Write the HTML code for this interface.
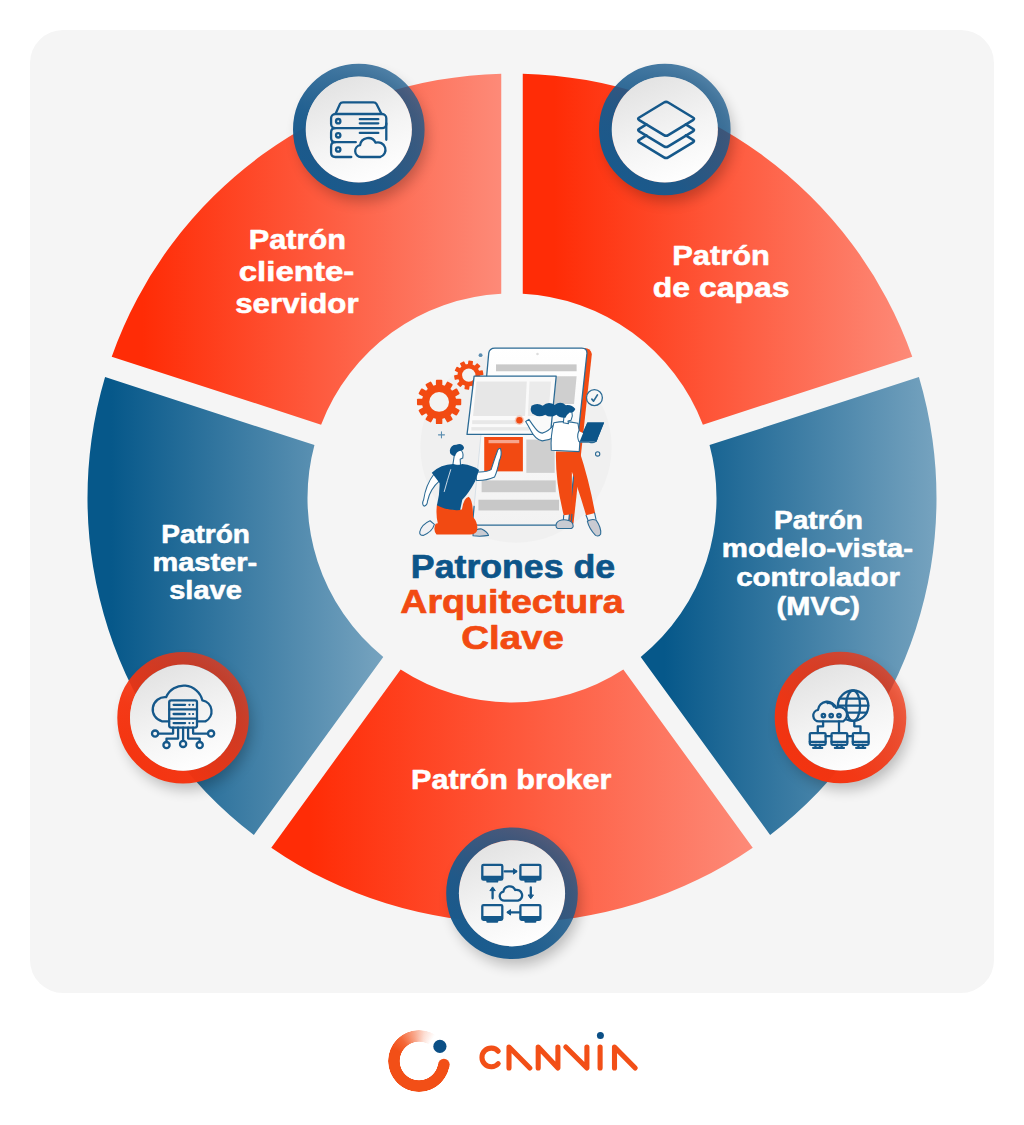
<!DOCTYPE html>
<html lang="es">
<head>
<meta charset="utf-8">
<title>Patrones de Arquitectura Clave</title>
<style>
  html, body { margin: 0; padding: 0; background: #ffffff; }
  body { width: 1024px; height: 1125px; overflow: hidden; position: relative;
         font-family: "Liberation Sans", sans-serif; }
  svg { position: absolute; left: 0; top: 0; display: block; }
  text { font-family: "Liberation Sans", sans-serif; font-weight: bold; }
  .lbl { fill: #ffffff; stroke: #ffffff; stroke-width: 0.55px; stroke-linejoin: round; }
  .logo-ring { position: absolute; left: 388px; top: 1029.5px; width: 62px; height: 62px; border-radius: 50%;
     background: conic-gradient(from 100deg, #f24f17 0deg, #f24f17 195deg, rgba(242,79,23,0.85) 222deg, rgba(242,79,23,0.5) 250deg, rgba(242,79,23,0.18) 272deg, rgba(242,79,23,0) 292deg, rgba(242,79,23,0) 360deg);
     -webkit-mask: radial-gradient(circle closest-side, transparent 0, transparent 19px, #000 19.6px, #000 30.6px, transparent 31.2px);
             mask: radial-gradient(circle closest-side, transparent 0, transparent 19px, #000 19.6px, #000 30.6px, transparent 31.2px);
  }
</style>
</head>
<body>
<svg width="1024" height="1125" viewBox="0 0 1024 1125">
  <defs>
    <linearGradient id="gA" gradientUnits="userSpaceOnUse" x1="522.75" y1="0" x2="912.3" y2="0"><stop offset="0" stop-color="#ff2c06"/><stop offset="0.08" stop-color="#ff2c06"/><stop offset="1" stop-color="#fd8a78"/></linearGradient>
    <linearGradient id="gB" gradientUnits="userSpaceOnUse" x1="640.7" y1="0" x2="936.5" y2="0"><stop offset="0" stop-color="#06588a"/><stop offset="0.08" stop-color="#06588a"/><stop offset="1" stop-color="#76a3bf"/></linearGradient>
    <linearGradient id="gC" gradientUnits="userSpaceOnUse" x1="271.3" y1="0" x2="752.7" y2="0"><stop offset="0" stop-color="#ff2c06"/><stop offset="0.08" stop-color="#ff2c06"/><stop offset="1" stop-color="#fd8a78"/></linearGradient>
    <linearGradient id="gD" gradientUnits="userSpaceOnUse" x1="87.5" y1="0" x2="383.3" y2="0"><stop offset="0" stop-color="#06588a"/><stop offset="0.08" stop-color="#06588a"/><stop offset="1" stop-color="#76a3bf"/></linearGradient>
    <linearGradient id="gE" gradientUnits="userSpaceOnUse" x1="111.7" y1="0" x2="501.25" y2="0"><stop offset="0" stop-color="#ff2c06"/><stop offset="0.08" stop-color="#ff2c06"/><stop offset="1" stop-color="#fd8a78"/></linearGradient>
    <linearGradient id="ringBlue" x1="0.05" y1="0.95" x2="0.95" y2="0.05"><stop offset="0" stop-color="#185a8d" stop-opacity="1"/><stop offset="0.3" stop-color="#185a8d" stop-opacity="0.96"/><stop offset="0.55" stop-color="#185a8d" stop-opacity="0.86"/><stop offset="1" stop-color="#185a8d" stop-opacity="0.72"/></linearGradient>
    <linearGradient id="ringRed" x1="0.05" y1="0.95" x2="0.95" y2="0.05"><stop offset="0" stop-color="#f5330f" stop-opacity="1"/><stop offset="0.3" stop-color="#f5330f" stop-opacity="0.96"/><stop offset="0.55" stop-color="#f5330f" stop-opacity="0.86"/><stop offset="1" stop-color="#f5330f" stop-opacity="0.70"/></linearGradient>
    <linearGradient id="disc" x1="0.3" y1="0" x2="0.7" y2="1"><stop offset="0" stop-color="#e2e2e2"/><stop offset="0.55" stop-color="#f4f4f4"/><stop offset="1" stop-color="#ffffff"/></linearGradient>
    <linearGradient id="tabfill" x1="0" y1="0" x2="0" y2="1"><stop offset="0" stop-color="#ffffff"/><stop offset="0.35" stop-color="#fafafa"/><stop offset="1" stop-color="#f2f2f2"/></linearGradient>
    <filter id="sh" x="-40%" y="-40%" width="180%" height="180%"><feGaussianBlur stdDeviation="7"/></filter>
    <g id="badgeBlue">
      <circle cx="4" cy="8" r="64" fill="#000" opacity="0.24" filter="url(#sh)"/>
      <circle r="59.3" fill="none" stroke="url(#ringBlue)" stroke-width="13"/>
      <circle r="53.1" fill="url(#disc)"/>
    </g>
    <g id="badgeRed">
      <circle cx="4" cy="8" r="64" fill="#000" opacity="0.24" filter="url(#sh)"/>
      <circle r="59.3" fill="none" stroke="url(#ringRed)" stroke-width="13"/>
      <circle r="53.1" fill="url(#disc)"/>
    </g>
  </defs>

  <!-- panel -->
  <rect x="30" y="30" width="964" height="963" rx="33" ry="33" fill="#f5f5f5"/>

  <!-- donut segments -->
  <path fill="url(#gA)" d="M522.75 73.64 A424.5 424.5 0 0 1 912.27 356.64 L702.90 424.67 A204.5 204.5 0 0 0 522.75 293.78 Z"/>
  <path fill="url(#gB)" d="M918.92 377.09 A424.5 424.5 0 0 1 770.13 835.00 L640.73 656.90 A204.5 204.5 0 0 0 709.54 445.12 Z"/>
  <path fill="url(#gC)" d="M752.74 847.64 A424.5 424.5 0 0 1 271.26 847.64 L400.66 669.53 A204.5 204.5 0 0 0 623.34 669.53 Z"/>
  <path fill="url(#gD)" d="M253.87 835.00 A424.5 424.5 0 0 1 105.08 377.09 L314.46 445.12 A204.5 204.5 0 0 0 383.27 656.90 Z"/>
  <path fill="url(#gE)" d="M111.73 356.64 A424.5 424.5 0 0 1 501.25 73.64 L501.25 293.78 A204.5 204.5 0 0 0 321.10 424.67 Z"/>

  <!-- ILLUSTRATION -->
  <g id="illus" transform="translate(400 330) scale(0.214844)">
    <circle cx="540" cy="545" r="445" fill="#f0f0f0"/>
    <!-- gears -->
    <g fill="#f24a12">
      <g transform="translate(182 335)">
        <circle r="80"/>
        <rect x="-15" y="-103" width="30" height="206" rx="4" transform="rotate(0)"/>
        <rect x="-15" y="-103" width="30" height="206" rx="4" transform="rotate(30)"/>
        <rect x="-15" y="-103" width="30" height="206" rx="4" transform="rotate(60)"/>
        <rect x="-15" y="-103" width="30" height="206" rx="4" transform="rotate(90)"/>
        <rect x="-15" y="-103" width="30" height="206" rx="4" transform="rotate(120)"/>
        <rect x="-15" y="-103" width="30" height="206" rx="4" transform="rotate(150)"/>
        <circle r="46" fill="#f3f3f3"/>
      </g>
      <g transform="translate(320 210)">
        <circle r="52"/>
        <rect x="-11" y="-68" width="22" height="136" rx="3" transform="rotate(8)"/>
        <rect x="-11" y="-68" width="22" height="136" rx="3" transform="rotate(44)"/>
        <rect x="-11" y="-68" width="22" height="136" rx="3" transform="rotate(80)"/>
        <rect x="-11" y="-68" width="22" height="136" rx="3" transform="rotate(116)"/>
        <rect x="-11" y="-68" width="22" height="136" rx="3" transform="rotate(152)"/>
        <circle r="31" fill="#f3f3f3"/>
      </g>
    </g>
    <!-- tablet -->
    <path d="M858 84 Q888 84 893 112 L808 896 Q806 908 790 908 L770 908 Z" fill="#f24a12"/>
    <path d="M442 84 H846 Q872 84 870 110 L786 884 Q783 908 758 908 H362 Q336 908 339 884 L413 108 Q416 84 442 84 Z" fill="url(#tabfill)"/>
    <path d="M345 820 L339 884 Q336 908 362 908 H758 Q783 908 786 884 L870 110 Q872 84 846 84 H442 Q416 84 413 108 L402 230" fill="none" stroke="#2b6a94" stroke-width="6" stroke-linecap="round"/>
    <path d="M345 820 L377 486" fill="none" stroke="#d3dde5" stroke-width="4"/>
    <circle cx="640" cy="112" r="6" fill="#dddddd"/>
    <rect x="447" y="160" width="375" height="32" fill="#c9c9c9"/>
    <path d="M727 215 H822 L810 345 H716 Z" fill="#cfcfcf"/>
    <rect x="588" y="510" width="132" height="155" fill="#cfcfcf"/>
    <rect x="380" y="700" width="345" height="55" fill="#cbcbcb"/>
    <rect x="365" y="790" width="375" height="50" fill="#c8c8c8"/>
    <rect x="392" y="498" width="180" height="160" fill="#f24a12"/>
    <rect x="412" y="512" width="143" height="15" fill="#f7a58c"/>
    <!-- front panel -->
    <path d="M345 215 H727 L700 486 H312 Z" fill="#fafafa" stroke="#2b6a94" stroke-width="6" stroke-linejoin="round"/>
    <path d="M356 240 H590 L582 400 H340 Z" fill="#e7e7e7"/>
    <path d="M603 240 H703 L690 400 H595 Z" fill="#ebebeb"/>
    <rect x="336" y="420" width="225" height="18" fill="#e8e8e8"/>
    <rect x="332" y="452" width="270" height="16" fill="#e8e8e8"/>
    <!-- decorations -->
    <circle cx="375" cy="117" r="9" fill="#5b8db0"/>
    <path d="M193 474 V502 M179 488 H207" stroke="#5b8db0" stroke-width="5" stroke-linecap="round"/>
    <circle cx="920" cy="577" r="10" fill="none" stroke="#2b6a94" stroke-width="5"/>
    <circle cx="905" cy="315" r="37" fill="#f6f6f6" stroke="#2b6a94" stroke-width="6"/>
    <path d="M893 322 L901 331 L919 302" fill="none" stroke="#2b6a94" stroke-width="8" stroke-linecap="round" stroke-linejoin="round"/>
    <!-- woman -->
    <g stroke-linejoin="round" stroke-linecap="round">
      <!-- far leg / pants -->
      <path d="M726 566 H836 Q880 700 908 852 L866 862 Q830 740 800 660 L800 858 L762 862 Q722 700 726 566 Z" fill="#f24a12"/>
      <path d="M762 862 L760 890 M800 858 L798 888 M866 862 L876 888 M906 852 L912 880" stroke="#2b6a94" stroke-width="5" fill="none"/>
      <path d="M728 900 Q740 880 775 884 Q806 888 806 912 Q806 924 790 924 H735 Q722 920 728 900 Z" fill="#c9cbd2" stroke="#2b6a94" stroke-width="5"/>
      <path d="M872 890 Q890 878 912 884 Q938 920 934 950 Q926 964 910 956 Q880 925 872 890 Z" fill="#c9cbd2" stroke="#2b6a94" stroke-width="5"/>
      <!-- reaching arm -->
      <path d="M716 500 Q690 514 662 516 Q630 510 610 470 Q596 444 585 426 L600 416 Q616 440 630 458 Q645 478 662 480 Q690 474 716 442 Z" fill="#ffffff" stroke="#2b6a94" stroke-width="5"/>
      <!-- top -->
      <path d="M716 432 Q770 420 828 434 Q842 500 834 566 L704 560 Q700 490 716 432 Z" fill="#ffffff" stroke="#2b6a94" stroke-width="5"/>
      <!-- neck+face -->
      <path d="M760 432 L764 398 Q776 372 800 380 Q806 400 796 420 L782 424 L784 436 Z" fill="#ffffff" stroke="#2b6a94" stroke-width="5"/>
      <!-- hair -->
      <path d="M612 352 Q640 336 664 352 Q690 330 720 348 Q748 328 772 350 Q800 346 816 368 Q808 388 790 384 Q778 392 770 408 Q742 410 728 394 Q700 412 676 394 Q648 410 626 394 Q600 384 612 352 Z" fill="#0d5589"/>
      <!-- tablet in hand -->
      <path d="M872 430 H950 L914 520 H830 Z" fill="#0d5589"/>
      <path d="M832 470 Q820 500 836 522 H880 Q910 530 916 510" fill="#ffffff" stroke="#2b6a94" stroke-width="5"/>
      <path d="M872 430 H950 L914 520 H836 Z" fill="#0d5589"/>
    </g>
    <circle cx="556" cy="420" r="15" fill="#f24a12"/>
    <circle cx="556" cy="420" r="22" fill="#f24a12" opacity="0.25"/>
    <!-- man -->
    <g stroke-linejoin="round" stroke-linecap="round">
      <!-- back foot -->
      <path d="M92 940 Q100 905 140 888 L160 905 Q150 940 108 956 Q90 956 92 940 Z" fill="#f1f1f4" stroke="#2b6a94" stroke-width="5"/>
      <!-- front foot -->
      <path d="M340 948 Q352 924 380 926 Q408 940 412 956 Q380 962 340 958 Z" fill="#c9cbd2" stroke="#2b6a94" stroke-width="5"/>
      <!-- pants -->
      <path d="M172 812 Q230 840 288 836 Q296 780 320 776 Q340 790 340 870 Q366 900 358 936 Q350 954 320 952 H170 Q152 930 166 902 L176 900 Q166 860 172 812 Z" fill="#f24a12"/>
      <!-- left arm -->
      <path d="M160 668 Q120 720 110 790 Q100 810 112 820 Q128 816 128 796 Q140 740 186 700 Z" fill="#ffffff" stroke="#2b6a94" stroke-width="5"/>
      <!-- right arm -->
      <path d="M352 660 Q400 664 424 650 Q440 600 452 568 Q456 548 468 552 Q476 580 462 610 Q452 660 440 684 Q400 702 356 700 Z" fill="#ffffff" stroke="#2b6a94" stroke-width="5"/>
      <!-- neck/head -->
      <path d="M246 628 L252 588 Q250 560 280 558 Q298 566 292 596 L280 602 L282 630 Z" fill="#ffffff" stroke="#2b6a94" stroke-width="5"/>
      <!-- shirt -->
      <path d="M148 664 Q190 626 248 624 Q270 634 290 624 Q340 630 368 652 L350 704 Q320 760 290 790 L280 838 Q220 842 172 816 Q186 760 184 712 Z" fill="#0d5589"/>
      <path d="M236 650 Q220 700 206 752" fill="none" stroke="#e8eef3" stroke-width="4"/>
      <!-- hair -->
      <path d="M232 560 Q236 534 262 534 Q290 524 298 548 Q296 562 280 562 Q262 566 256 588 Q230 584 232 560 Z" fill="#0d5589"/>
    </g>
  </g>

  <!-- labels -->
  <g class="lbl" font-size="27.5" text-anchor="middle">
    <text x="297.4" y="248.7" textLength="97.2" lengthAdjust="spacingAndGlyphs">Patrón</text>
    <text x="296.5" y="280.7" textLength="115.6" lengthAdjust="spacingAndGlyphs">cliente-</text>
    <text x="296.9" y="313.1" textLength="123.4" lengthAdjust="spacingAndGlyphs">servidor</text>
    <text x="721.1" y="264.5" textLength="97.7" lengthAdjust="spacingAndGlyphs">Patrón</text>
    <text x="721.1" y="296.6" textLength="136.7" lengthAdjust="spacingAndGlyphs">de capas</text>
    <text x="511.3" y="789.2" textLength="200.4" lengthAdjust="spacingAndGlyphs">Patrón broker</text>
  </g>
  <g class="lbl" font-size="25" text-anchor="middle">
    <text x="818.5" y="528.7" textLength="89" lengthAdjust="spacingAndGlyphs">Patrón</text>
    <text x="817.4" y="557" textLength="191.2" lengthAdjust="spacingAndGlyphs">modelo-vista-</text>
    <text x="818.1" y="585.6" textLength="163.9" lengthAdjust="spacingAndGlyphs">controlador</text>
    <text x="818.3" y="614.6" textLength="83.4" lengthAdjust="spacingAndGlyphs">(MVC)</text>
    <text x="205.6" y="543" textLength="88.7" lengthAdjust="spacingAndGlyphs">Patrón</text>
    <text x="204.8" y="571.2" textLength="104.6" lengthAdjust="spacingAndGlyphs">master-</text>
    <text x="205.5" y="599.3" textLength="72.6" lengthAdjust="spacingAndGlyphs">slave</text>
  </g>

  <!-- title -->
  <g font-size="33" text-anchor="middle" stroke-width="0.7" stroke-linejoin="round">
    <text x="513" y="578.3" fill="#0d5589" stroke="#0d5589" textLength="204.3" lengthAdjust="spacingAndGlyphs">Patrones de</text>
    <text x="512" y="613.2" fill="#f24a12" stroke="#f24a12" textLength="223.3" lengthAdjust="spacingAndGlyphs">Arquitectura</text>
    <text x="512.5" y="648.6" fill="#f24a12" stroke="#f24a12" textLength="102.5" lengthAdjust="spacingAndGlyphs">Clave</text>
  </g>

  <!-- badges -->
  <use href="#badgeBlue" x="358.8" y="129.5"/>
  <use href="#badgeBlue" x="664.8" y="129.5"/>
  <use href="#badgeRed" x="840.5" y="717.5"/>
  <use href="#badgeBlue" x="512" y="893.3"/>
  <use href="#badgeRed" x="183.1" y="717.7"/>

  <!-- ICONS -->
  <g id="icons" fill="none" stroke="#15588a" stroke-width="2.3" stroke-linecap="round" stroke-linejoin="round">
    <!-- 1: server + cloud -->
    <g transform="translate(358.8 129.5)">
      <path d="M-23.2 -15.8 L-18.9 -25.4 Q-18 -27.2 -15.8 -27.2 H14.6 Q16.8 -27.2 17.7 -25.4 L22.6 -15.8"/>
      <rect x="-27.7" y="-15.5" width="55.2" height="14.1" rx="4.2"/>
      <path d="M27.5 -6 V10.3 M-23.5 -1.4 Q-27.7 -1.4 -27.7 2.8 V8.5 Q-27.7 12.7 -23.5 12.7 H-3"/>
      <path d="M-23.5 12.7 Q-27.7 12.7 -27.7 16.9 V23.3 Q-27.7 27.5 -23.5 27.5 H-7.5"/>
      <circle cx="-20.6" cy="-8.3" r="2.2"/><circle cx="-20.6" cy="5.8" r="2.2"/><circle cx="-20.6" cy="20" r="2.2"/>
      <path d="M1 -10.3 H19.5 M1 -6.2 H19.5 M1 3.4 H19.5"/>
      <path d="M2.2 27.5 A6 6 0 0 1 1.3 15.6 A8.2 8.2 0 0 1 16.8 13.2 A7.3 7.3 0 0 1 21.5 27.5 Z"/>
    </g>
    <!-- 2: layers -->
    <g transform="translate(664.8 129.9)" stroke-width="2.6">
      <path d="M-0.84 -27.4 Q1.3 -28.7 3.44 -27.4 L28.16 -12.4 Q30.3 -11.1 28.16 -9.8 L3.44 5.2 Q1.3 6.5 -0.84 5.2 L-25.56 -9.8 Q-27.7 -11.1 -25.56 -12.4 Z"/>
      <path d="M-18.4 -5.45 L-25.56 -1.1 Q-27.7 0.2 -25.56 1.5 L-0.84 16.5 Q1.3 17.8 3.44 16.5 L28.16 1.5 Q30.3 0.2 28.16 -1.1 L21 -5.45"/>
      <path d="M-18.4 5.55 L-25.56 9.9 Q-27.7 11.2 -25.56 12.5 L-0.84 27.5 Q1.3 28.8 3.44 27.5 L28.16 12.5 Q30.3 11.2 28.16 9.9 L21 5.55"/>
    </g>
    <!-- 3: cloud + globe + monitors -->
    <g transform="translate(840.5 717.5)">
      <circle cx="12.6" cy="-11.8" r="15.2"/>
      <ellipse cx="12.6" cy="-11.8" rx="7" ry="15.2"/>
      <path d="M-2.6 -11.8 H27.8 M-0.9 -18.8 H26.1 M-0.9 -4.8 H26.1"/>
      <path d="M-21.5 3.9 A5.8 5.8 0 0 1 -22.5 -7.6 A9.3 9.3 0 0 1 -4.5 -9.6 A6.8 6.8 0 0 1 2.5 3.9 Z" fill="#f1f1f1"/>
      <path d="M-13 -14.5 A6 6 0 0 1 -6.5 -11"/>
      <circle cx="-17.1" cy="-1.9" r="1.7"/><circle cx="-9.3" cy="-1.9" r="1.7"/><circle cx="-1.5" cy="-1.9" r="1.7"/>
      <path d="M-17.4 3.9 V8.9 H-22.7 V15.6 M-1.5 3.9 V15.6 M13.8 3.6 V8.8 H20 V15.6 M-14.9 18.6 H-9 M6.8 18.6 H12.7"/>
      <g id="mon3">
        <rect x="-30.7" y="15.6" width="15.8" height="11.7" rx="1.2"/>
        <path d="M-30.7 24.3 H-14.9 M-24.6 27.3 L-25.4 30.2 M-21 27.3 L-20.2 30.2 M-27.3 30.4 H-18.3"/>
      </g>
      <use href="#mon3" x="21.7"/>
      <use href="#mon3" x="43"/>
    </g>
    <!-- 4: broker -->
    <g transform="translate(512 893.3)">
      <g id="mon4">
        <rect x="-29.7" y="-28.4" width="20" height="14.7" rx="1.2"/>
        <path d="M-29.7 -16.9 H-9.7 V-14.4 H-29.7 Z" fill="#15588a" stroke-width="1.2"/>
        <path d="M-24.5 -13.7 V-11.9 H-14.9 V-13.7" stroke-width="2.4"/>
      </g>
      <use href="#mon4" x="38.1"/>
      <use href="#mon4" y="40.2"/>
      <use href="#mon4" x="38.1" y="40.2"/>
      <path d="M-7.3 -21.9 H4 M7.3 19 H-4 M-19.4 5 V-4.5 M18.8 -5.9 V3.6"/>
      <path d="M1.8 -24.4 L5.2 -21.9 L1.8 -19.4 Z M-1.8 16.5 L-5.2 19 L-1.8 21.5 Z M-21.9 -3 L-19.4 -6.4 L-16.9 -3 Z M16.3 2 L18.8 5.5 L21.3 2 Z" fill="#15588a" stroke-width="1"/>
      <path d="M-7.5 7.4 A4.6 4.6 0 0 1 -8.6 -1.7 A6.2 6.2 0 0 1 3.2 -3.3 A5.4 5.4 0 0 1 6 7.4 Z"/>
    </g>
    <!-- 5: master-slave -->
    <g transform="translate(183.1 717.7)">
      <path d="M-14 3.7 H-21 A12.3 12.3 0 0 1 -17 -20.5 A19.2 19.2 0 0 1 19.3 -17.3 A11.2 11.2 0 0 1 22.3 3.7 H14"/>
      <rect x="-13.9" y="-17.4" width="27.8" height="27.3" rx="2"/>
      <path d="M-13.9 -8.4 H13.9 M-13.9 0.9 H13.9"/>
      <path d="M-9.5 -12.9 H2 M-9.5 -3.7 H2 M-9.5 5.4 H2"/>
      <path d="M6.3 -12.9 H6.4 M9.9 -12.9 H10 M6.3 -3.7 H6.4 M9.9 -3.7 H10 M6.3 5.4 H6.4 M9.9 5.4 H10" stroke-width="2.2"/>
      <path d="M0 9.9 V23 M-10 9.9 V15.9 H-24.9 M10 9.9 V15.9 H24.9 M-5 9.9 V20.9 H-16.6 V24.3 M5 9.9 V20.9 H16.6 V24.3"/>
      <circle cx="0" cy="26.2" r="3.1"/><circle cx="-28" cy="15.9" r="3.1"/><circle cx="28" cy="15.9" r="3.1"/>
      <circle cx="-16.6" cy="27.4" r="3.1"/><circle cx="16.6" cy="27.4" r="3.1"/>
    </g>
  </g>

  <!-- LOGO TEXT -->
  <g id="logotext" fill="none" stroke="#f24f17" stroke-width="5.1" stroke-linecap="round" stroke-linejoin="round">
    <path d="M498.2 1051.2 A9.3 9.3 0 1 0 498.2 1063.6"/>
    <path d="M509 1068 V1047 L529.8 1068"/>
    <path d="M538.2 1068 V1047 L557.9 1068 V1047"/>
    <path d="M565.8 1047 L586.9 1068 V1047"/>
    <path d="M600.1 1068 V1047"/>
    <path d="M614.5 1068 V1047 L635.2 1068"/>
  </g>
  <circle cx="600.4" cy="1035.5" r="3.5" fill="#0b4f86"/>
  <circle cx="439.9" cy="1046.4" r="6.6" fill="#0b4f86"/>
  <circle cx="443.9" cy="1064.6" r="5.8" fill="#f24f17"/>
</svg>
<div class="logo-ring"></div>
</body>
</html>
